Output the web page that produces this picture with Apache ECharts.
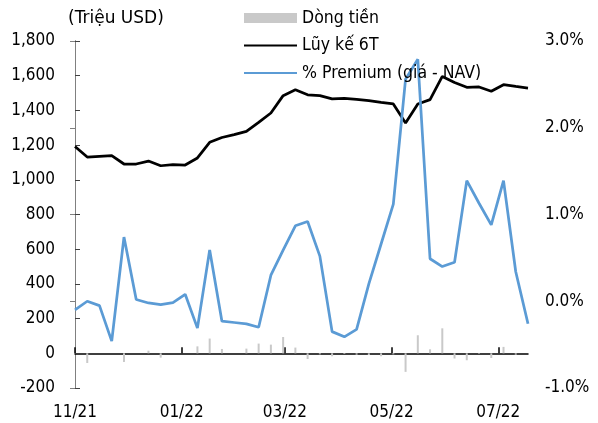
<!DOCTYPE html>
<html>
<head>
<meta charset="utf-8">
<script src="https://cdn.jsdelivr.net/npm/echarts@6/dist/echarts.min.js"></script>
<style>
html,body{margin:0;padding:0;background:#fff;}
#c{width:598px;height:423px;}
</style>
</head>
<body>
<div id="c"></div>
<script>
const dates = ['2021-11-01','2021-11-08','2021-11-15','2021-11-22','2021-11-29','2021-12-06','2021-12-13','2021-12-20','2021-12-27',
  '2022-01-03','2022-01-10','2022-01-17','2022-01-24','2022-01-31','2022-02-07','2022-02-14','2022-02-21','2022-02-28',
  '2022-03-07','2022-03-14','2022-03-21','2022-03-28','2022-04-04','2022-04-11','2022-04-18','2022-04-25',
  '2022-05-02','2022-05-09','2022-05-16','2022-05-23','2022-05-30','2022-06-06','2022-06-13','2022-06-20','2022-06-27',
  '2022-07-04','2022-07-11','2022-07-18'];
const flows = [0, -56, 0, 0, -50, 0, 15, -25, 0, 0, 40, 85, 25, 0, 27, 56, 50, 94, 33, -33, -6, -17, -4, -8, -10, -17, -6, -107, 104, 23, 144, -30, -40, -3, -27, 37, -8, 0];
const cumulative6M = [1192, 1131, 1135, 1139, 1091, 1091, 1108, 1081, 1087, 1085, 1126, 1216, 1244, 1260, 1279, 1331, 1385, 1485, 1519, 1490, 1485, 1466, 1469, 1463, 1456, 1446, 1437, 1327, 1437, 1462, 1596, 1561, 1533, 1535, 1510, 1548, 1538, 1529];
const premium = [-0.10, 0.00, -0.05, -0.46, 0.74, 0.02, -0.02, -0.04, -0.015, 0.08, -0.31, 0.59, -0.23, -0.245, -0.26, -0.30, 0.30, 0.59, 0.87, 0.92, 0.52, -0.35, -0.41, -0.325, 0.20, 0.66, 1.12, 2.56, 2.79, 0.49, 0.40, 0.45, 1.39, 1.13, 0.88, 1.39, 0.34, -0.26];
const tickDates = ['2021-11-01','2022-01-01','2022-03-01','2022-05-01','2022-07-01'];
const tickLabels = ['11/21','01/22','03/22','05/22','07/22'];
const seriesNames = ['Dòng tiền','Lũy kế 6T','% Premium (giá - NAV)'];
const unitLabel = '(Triệu USD)';

const toDay = s => { const p = s.split('-').map(Number); return Date.UTC(p[0], p[1]-1, p[2]) / 86400000; };
const day0 = toDay(dates[0]);
const xs = dates.map(d => toDay(d) - day0);
const tickXs = tickDates.map(d => toDay(d) - day0);
const pair = arr => arr.map((v, i) => [xs[i], v]);
const FONT = "'DejaVu Sans Condensed', 'Liberation Sans', sans-serif";
const FS = 17;

const chart = echarts.init(document.getElementById('c'), null, {renderer: 'canvas'});
chart.setOption({
  animation: false,
  backgroundColor: '#fff',
  textStyle: {fontFamily: FONT, color: '#000'},
  title: {
    text: unitLabel, left: 63, top: 5,
    textStyle: {fontFamily: "'DejaVu Sans', sans-serif", fontSize: 17, fontWeight: 'normal', color: '#000'}
  },
  legend: {
    orient: 'vertical', left: 238, top: 3,
    itemWidth: 53, itemHeight: 10, itemGap: 7.5,
    textStyle: {fontFamily: FONT, fontSize: 17.5, color: '#000', lineHeight: 20},
    data: [
      {name: seriesNames[0], icon: 'rect'},
      {name: seriesNames[1], itemStyle: {opacity: 0}},
      {name: seriesNames[2], itemStyle: {opacity: 0}}
    ]
  },
  grid: {left: 75, right: 70, top: 41, bottom: 35, containLabel: false},
  xAxis: [
    {
      type: 'value', min: xs[0], max: xs[xs.length-1],
      position: 'top',
      axisLine: {show: true, onZero: true, onZeroAxisIndex: 0, lineStyle: {color: '#000', width: 1.5}},
      axisTick: {show: true, inside: false, length: 6, customValues: tickXs, lineStyle: {color: '#000', width: 1.5}},
      axisLabel: {show: false},
      splitLine: {show: false},
      minorTick: {show: false}
    },
    {
      type: 'value', min: xs[0], max: xs[xs.length-1],
      position: 'bottom',
      axisLine: {show: false, onZero: false},
      axisTick: {show: false},
      splitLine: {show: false},
      axisLabel: {
        show: true, margin: 16, customValues: tickXs,
        fontFamily: FONT, fontSize: FS, color: '#000',
        formatter: v => { const i = tickXs.indexOf(v); return i >= 0 ? tickLabels[i] : ''; }
      }
    }
  ],
  yAxis: [
    {
      type: 'value', min: -200, max: 1800, interval: 200,
      axisLine: {show: true, lineStyle: {color: '#404040', width: 1}},
      axisTick: {show: true, inside: true, length: 5, lineStyle: {color: '#404040'}},
      splitLine: {show: false},
      axisLabel: {
        margin: 20, fontFamily: FONT, fontSize: FS, color: '#000',
        formatter: v => v.toLocaleString('en-US')
      }
    },
    {
      type: 'value', min: -1, max: 3, interval: 1, position: 'right',
      axisLine: {show: true, lineStyle: {color: '#808080', width: 1}},
      axisTick: {show: true, inside: true, length: 5, lineStyle: {color: '#808080'}},
      splitLine: {show: false},
      axisLabel: {
        margin: 17, fontFamily: FONT, fontSize: FS, color: '#000',
        formatter: v => v.toFixed(1) + '%'
      }
    }
  ],
  series: [
    {
      name: seriesNames[0], type: 'bar', xAxisIndex: 0, yAxisIndex: 0,
      data: pair(flows), barWidth: 2,
      itemStyle: {color: '#c9c9c9'}
    },
    {
      name: seriesNames[1], type: 'line', xAxisIndex: 0, yAxisIndex: 0,
      data: pair(cumulative6M), symbol: 'none', showSymbol: false,
      lineStyle: {color: '#000', width: 2.75}, itemStyle: {color: '#000'}
    },
    {
      name: seriesNames[2], type: 'line', xAxisIndex: 0, yAxisIndex: 1,
      data: pair(premium), symbol: 'none', showSymbol: false,
      lineStyle: {color: '#5b9bd5', width: 2.75}, itemStyle: {color: '#5b9bd5'}
    }
  ]
});
</script>
</body>
</html>
